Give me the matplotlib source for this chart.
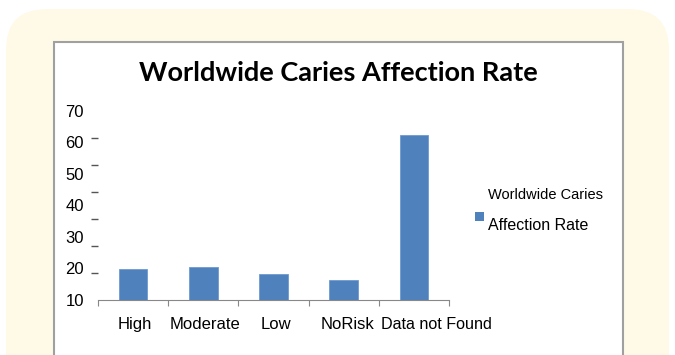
import matplotlib
matplotlib.use("Agg")
import matplotlib.pyplot as plt
from matplotlib.patches import FancyBboxPatch, Rectangle
from matplotlib.transforms import ScaledTranslation
import numpy as np

categories = ["High", "Moderate", "Low", "NoRisk", "Data not Found"]
values = [19.7, 20.5, 18.1, 16.3, 62.3]
ytick_labels = ["10", "20", "30", "40", "50", "60", "70"]
title = "Worldwide Caries Affection Rate"
legend_label = "Worldwide Caries\nAffection Rate"

W, H = 675, 355
fig = plt.figure(figsize=(W / 100, H / 100), dpi=100)
fig.patch.set_facecolor("white")

# cream rounded panel
cream = FancyBboxPatch((6 / W, -0.2), (669 - 6) / W, (H - 9) / H + 0.2,
                       boxstyle="round,pad=0,rounding_size=0.06",
                       transform=fig.transFigure, facecolor="#FFFAE8",
                       edgecolor="none", mutation_aspect=W / H, zorder=0)
fig.patches.append(cream)
# white chart box
box = Rectangle((54 / W, -0.1), (623 - 54) / W, (H - 42) / H + 0.1,
                transform=fig.transFigure, facecolor="white",
                edgecolor="#A0A0A0", linewidth=1.5, zorder=1)
fig.patches.append(box)

ax = fig.add_axes([98 / W, 1 - 300 / H, (449 - 98) / W, (300 - 110.7) / H])
ax.set_facecolor("none")
ax.set_zorder(2)
x = np.arange(len(categories))
bars = ax.bar(x, [v - 10 for v in values], width=0.41, color="#4F81BD",
              edgecolor="#6F9AD0", linewidth=0.6, bottom=10, label=legend_label)

ax.set_xlim(-0.5, len(categories) - 0.5)
ax.set_ylim(10, 70)
ax.set_yticks([int(t) for t in ytick_labels])
ax.set_yticklabels(ytick_labels, fontsize=12, family="Liberation Sans")
ax.tick_params(axis="y", length=0, pad=10)
ax.set_yticks(np.linspace(10, 70, 8), minor=True)
ax.tick_params(axis="y", which="minor", length=5, color="#555555", width=1.0)
ax.set_xticks(np.arange(len(categories) + 1) - 0.5, minor=True)
ax.tick_params(axis="x", which="minor", length=4, color="#888888", width=0.8, direction="out")
ax.set_xticks(x)
ax.set_xticklabels(categories, fontsize=12, family="Liberation Sans")
ax.tick_params(axis="x", which="major", length=0, pad=12)
offsets = [2, 2, 2, 4, 23]
xlabels = ax.get_xticklabels()
xlabels[-1].set_fontsize(11.6)
for lbl, off in zip(xlabels, offsets):
    lbl.set_transform(lbl.get_transform() + ScaledTranslation(off / 100, 0, fig.dpi_scale_trans))
for s in ["top", "right", "left"]:
    ax.spines[s].set_visible(False)
ax.spines["bottom"].set_color("#888888")
ax.spines["bottom"].set_linewidth(0.8)

fig.text(338 / W, 1 - 73 / H, title, ha="center", va="center",
         fontsize=19.5, fontweight="bold", family="Lato", zorder=3)

# legend
fig.patches.append(Rectangle((475 / W, 1 - 221 / H), 9 / W, 9 / H,
                             transform=fig.transFigure, facecolor="#4F81BD",
                             edgecolor="none", zorder=3))
fig.text(488 / W, 1 - 195 / H, "Worldwide Caries", fontsize=10.5,
         family="Liberation Sans", va="center", ha="left", zorder=3)
fig.text(488 / W, 1 - 225 / H, "Affection Rate", fontsize=11.5,
         family="Liberation Sans", va="center", ha="left", zorder=3)

fig.savefig("out.png", dpi=100)
